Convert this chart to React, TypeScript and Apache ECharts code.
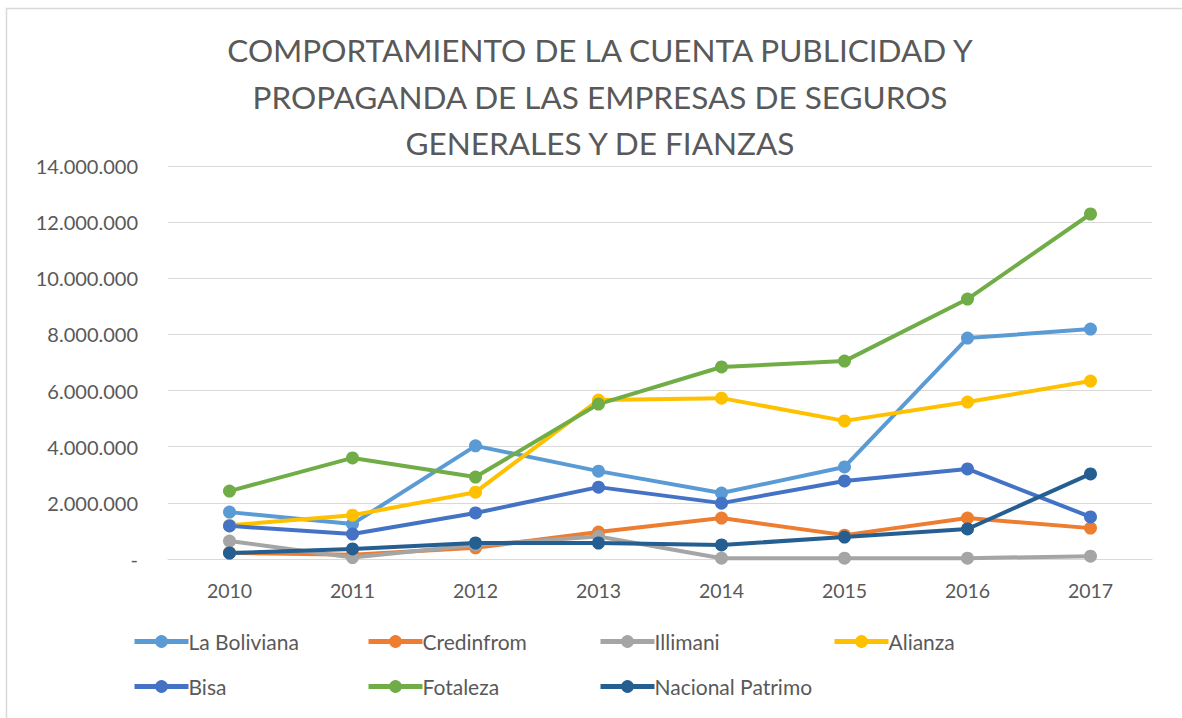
import React, { useEffect, useRef } from "react";
import * as echarts from "echarts";

const years = ["2010", "2011", "2012", "2013", "2014", "2015", "2016", "2017"];
const laBoliviana = [1670000, 1250000, 4030000, 3130000, 2350000, 3280000, 7870000, 8190000];
const credinfrom = [220000, 150000, 400000, 960000, 1460000, 850000, 1460000, 1100000];
const illimani = [640000, 50000, 500000, 800000, 30000, 30000, 30000, 100000];
const alianza = [1200000, 1560000, 2380000, 5660000, 5730000, 4920000, 5590000, 6340000];
const bisa = [1180000, 890000, 1640000, 2560000, 1990000, 2780000, 3210000, 1500000];
const fotaleza = [2420000, 3600000, 2920000, 5520000, 6840000, 7050000, 9260000, 12290000];
const nacionalPatrimo = [210000, 360000, 570000, 570000, 500000, 780000, 1070000, 3030000];
const yTicks = [0, 2000000, 4000000, 6000000, 8000000, 10000000, 12000000, 14000000];

const seriesDefs = [
  { name: "La Boliviana", data: laBoliviana, color: "#5B9BD5" },
  { name: "Credinfrom", data: credinfrom, color: "#ED7D31" },
  { name: "Illimani", data: illimani, color: "#A5A5A5" },
  { name: "Alianza", data: alianza, color: "#FFC000" },
  { name: "Bisa", data: bisa, color: "#4472C4" },
  { name: "Fotaleza", data: fotaleza, color: "#70AD47" },
  { name: "Nacional Patrimo", data: nacionalPatrimo, color: "#255E91" },
];

const legendPos = [
  { left: 127, top: 626 },
  { left: 361, top: 626 },
  { left: 593, top: 626 },
  { left: 827, top: 626 },
  { left: 127, top: 671 },
  { left: 361, top: 671 },
  { left: 593, top: 671 },
];

const FONT = "Lato, 'Open Sans', sans-serif";

function fmt(v: number): string {
  if (v === 0) return "-";
  return String(Math.round(v)).replace(/\B(?=(\d{3})+(?!\d))/g, ".");
}

export default function App() {
  const ref = useRef<HTMLDivElement>(null);
  useEffect(() => {
    if (!ref.current) return;
    const chart = echarts.init(ref.current, null, { renderer: "svg" });
    chart.setOption({
      animation: false,
      backgroundColor: "#ffffff",
      graphic: [
        {
          type: "rect",
          shape: { x: 6.5, y: 8.5, width: 1200, height: 800 },
          style: { fill: "none", stroke: "#D9D9D9", lineWidth: 1.5 },
          silent: true,
        },
      ],
      title: {
        text: "COMPORTAMIENTO DE LA CUENTA PUBLICIDAD Y\nPROPAGANDA DE LAS EMPRESAS DE SEGUROS\nGENERALES Y DE FIANZAS",
        left: 595,
        top: 22,
        textAlign: "center",
        textStyle: {
          fontFamily: FONT,
          fontSize: 31.5,
          fontWeight: "normal",
          color: "#595959",
          lineHeight: 46.5,
        },
      },
      legend: seriesDefs.map((s, i) => ({
        data: [s.name],
        left: legendPos[i].left,
        top: legendPos[i].top,
        itemWidth: 54,
        itemHeight: 16,
        itemGap: 4,
        selectedMode: false,
        lineStyle: { width: 5 },
        textStyle: { fontFamily: FONT, fontSize: 21, color: "#595959", padding: [0, 0, 0, -5] },
      })),
      grid: { left: 168, right: 30, top: 166, bottom: 159, containLabel: false },
      xAxis: {
        type: "category",
        data: years,
        boundaryGap: true,
        axisLine: { lineStyle: { color: "#D9D9D9", width: 1 } },
        axisTick: { show: false },
        axisLabel: { fontFamily: FONT, fontSize: 19.5, color: "#595959", margin: 21 },
      },
      yAxis: {
        type: "value",
        min: yTicks[0],
        max: yTicks[yTicks.length - 1],
        interval: 2000000,
        axisLine: { show: false },
        axisTick: { show: false },
        splitLine: { lineStyle: { color: "#D9D9D9", width: 1 } },
        axisLabel: {
          fontFamily: FONT,
          fontSize: 20,
          color: "#595959",
          margin: 30,
          formatter: (v: number) => fmt(v),
        },
      },
      series: seriesDefs.map((s) => ({
        name: s.name,
        type: "line",
        data: s.data,
        color: s.color,
        symbol: "circle",
        symbolSize: 13,
        lineStyle: { width: 4, color: s.color },
        itemStyle: { color: s.color },
      })),
    });
    return () => chart.dispose();
  }, []);
  return (
    <div
      ref={ref}
      style={{ position: "fixed", left: 0, top: 0, width: 1182, height: 718 }}
    />
  );
}
